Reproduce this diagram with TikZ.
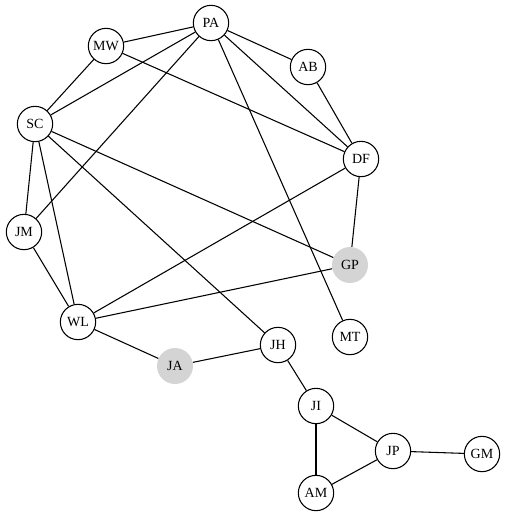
\documentclass[tikz,border=0pt]{standalone}
\usepackage{fontspec}
\setmainfont{Liberation Serif}
\begin{document}
\begin{tikzpicture}[x=0.75pt,y=-0.75pt,
  vtx/.style={circle,draw,line width=0.8pt,fill=white,minimum size=26.5pt,inner sep=0pt,font=\fontsize{10.5pt}{12pt}\selectfont},
  gvtx/.style={circle,fill=black!17,minimum size=27pt,inner sep=0pt,font=\fontsize{10.5pt}{12pt}\selectfont},
  edge/.style={line width=0.8pt}]
\useasboundingbox (0,0) rectangle (508,522);
\node[vtx] (PA) at (211,23) {PA};
\node[vtx] (MW) at (106,46) {MW};
\node[vtx] (AB) at (308,67) {AB};
\node[vtx] (SC) at (35,124) {SC};
\node[vtx] (DF) at (361,159) {DF};
\node[vtx] (JM) at (24,232) {JM};
\node[gvtx] (GP) at (350,265) {GP};
\node[vtx] (WL) at (78,322) {WL};
\node[vtx] (MT) at (350,337) {MT};
\node[vtx] (JH) at (278,345) {JH};
\node[gvtx] (JA) at (175,366) {JA};
\node[vtx] (JI) at (316,406) {JI};
\node[vtx] (JP) at (393,451) {JP};
\node[vtx] (GM) at (482,454) {GM};
\node[vtx] (AM) at (316,493) {AM};
\begin{scope}[on background layer/.try]
\end{scope}
\foreach \a/\b in {PA/MW,PA/SC,PA/JM,PA/AB,PA/DF,PA/MT,MW/SC,MW/DF,AB/DF,SC/JM,SC/WL,SC/GP,SC/JH,JM/WL,WL/DF,WL/GP,DF/GP,WL/JA,JA/JH,JH/JI,JI/JP,JI/AM,AM/JP,JP/GM}
  \draw[edge] (\a) -- (\b);
\end{tikzpicture}
\end{document}
